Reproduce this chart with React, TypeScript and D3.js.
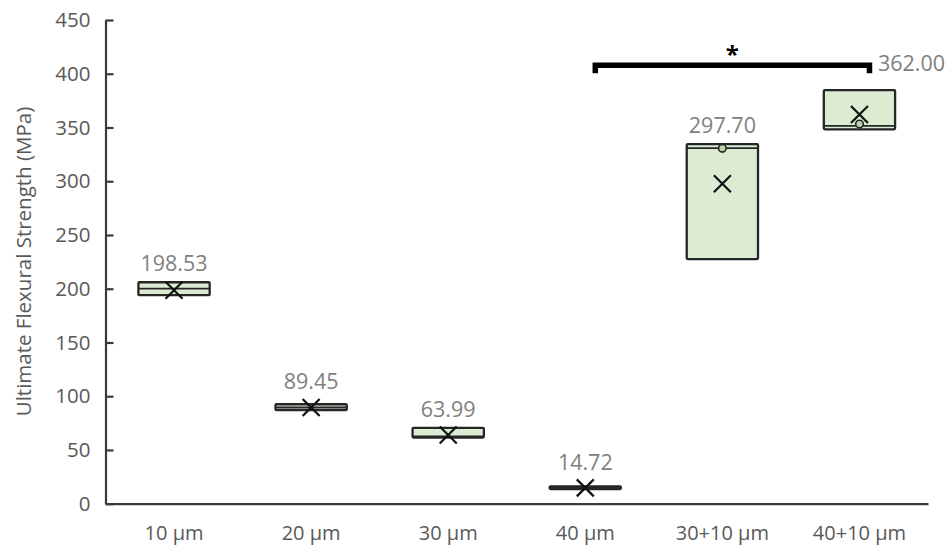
import React, { useEffect, useRef } from 'react';
import * as d3 from 'd3';

const categories = ['10 µm', '20 µm', '30 µm', '40 µm', '30+10 µm', '40+10 µm'];
const q1Values = [194, 87, 61.5, 13.6, 227.6, 348.3];
const medianValues = [200, 89.5, 62.5, 15, 330.8, 351.5];
const q3Values = [206, 92.5, 70.5, 16.2, 334.5, 384.8];
const meanValues = [198.53, 89.45, 63.99, 14.72, 297.7, 362.0];
const innerPoints = [[], [], [], [], [330.6], [353.2]];
const yTicks = [0, 50, 100, 150, 200, 250, 300, 350, 400, 450];
const bracketFrom = '40 µm';
const bracketTo = '40+10 µm';
const bracketValue = 408;

const W = 950;
const H = 549;
const FONT = "'Open Sans', sans-serif";

export default function App() {
  const svgRef = useRef<SVGSVGElement>(null);

  useEffect(() => {
    if (!svgRef.current) return;
    const svg = d3.select(svgRef.current);
    svg.selectAll('*').remove();

    const x = d3.scaleBand<string>()
      .domain(categories)
      .range([105.5, 928])
      .paddingInner(0.48)
      .paddingOuter(0.24);
    const y = d3.scaleLinear().domain([0, 450]).range([503.7, 20]);
    const bw = x.bandwidth();

    // y axis, ticks inside
    const gy = svg.append('g')
      .attr('transform', 'translate(105.5,0)')
      .call(d3.axisLeft(y).tickValues(yTicks).tickSizeInner(-8).tickSizeOuter(0).tickPadding(15));
    gy.select('.domain').attr('stroke', '#3a3a3a').attr('stroke-width', 2.2);
    gy.selectAll('.tick line').attr('stroke', '#3a3a3a').attr('stroke-width', 2.2);
    gy.selectAll('.tick text')
      .attr('fill', '#595959')
      .style('font-family', FONT)
      .style('font-size', '20.5px');

    // x axis, no ticks
    const gx = svg.append('g')
      .attr('transform', 'translate(0,503.7)')
      .call(d3.axisBottom(x).tickSize(0).tickPadding(22).tickSizeOuter(0));
    gx.select('.domain').attr('stroke', '#3a3a3a').attr('stroke-width', 2.2);
    gx.selectAll('.tick text')
      .attr('fill', '#595959')
      .style('font-family', FONT)
      .style('font-size', '20px');

    // axis title
    svg.append('text')
      .attr('transform', 'translate(24,261.5) rotate(-90)')
      .attr('text-anchor', 'middle')
      .attr('dy', '0.35em')
      .attr('fill', '#595959')
      .style('font-family', FONT)
      .style('font-size', '20.5px')
      .text('Ultimate Flexural Strength (MPa)');

    const groups = svg.append('g')
      .selectAll('g')
      .data(categories)
      .join('g');

    // boxes
    groups.append('rect')
      .attr('x', d => x(d)!)
      .attr('width', bw)
      .attr('y', (d, i) => y(q3Values[i]))
      .attr('height', (d, i) => y(q1Values[i]) - y(q3Values[i]))
      .attr('rx', 1)
      .attr('fill', '#dbecd3')
      .attr('stroke', '#262626')
      .attr('stroke-width', 2.3);

    // median
    groups.append('line')
      .attr('x1', d => x(d)!)
      .attr('x2', d => x(d)! + bw)
      .attr('y1', (d, i) => y(medianValues[i]))
      .attr('y2', (d, i) => y(medianValues[i]))
      .attr('stroke', '#262626')
      .attr('stroke-width', 1.8);

    // inner points
    groups.each(function (d, i) {
      d3.select(this)
        .selectAll('circle')
        .data(innerPoints[i])
        .join('circle')
        .attr('cx', x(d)! + bw / 2)
        .attr('cy', v => y(v))
        .attr('r', 3.8)
        .attr('fill', '#b9d6aa')
        .attr('stroke', '#262626')
        .attr('stroke-width', 1.6);
    });

    // mean markers
    const s = 8.5;
    groups.append('path')
      .attr('d', (d, i) => {
        const cx = x(d)! + bw / 2;
        const cy = y(meanValues[i]);
        return `M${cx - s},${cy - s}L${cx + s},${cy + s}M${cx + s},${cy - s}L${cx - s},${cy + s}`;
      })
      .attr('stroke', '#111')
      .attr('stroke-width', 2.2)
      .attr('fill', 'none');

    // mean labels
    const last = categories.length - 1;
    groups.append('text')
      .attr('x', (d, i) => x(d)! + bw / 2 + (i === last ? 52 : 0))
      .attr('y', (d, i) => {
        const yy = Math.min(y(meanValues[i]) - 26, y(q3Values[i]) - 19);
        return i === last ? yy - 8 : yy;
      })
      .attr('dy', '0.36em')
      .attr('text-anchor', 'middle')
      .attr('fill', '#808080')
      .style('font-family', FONT)
      .style('font-size', '21.5px')
      .text((d, i) => meanValues[i].toFixed(2));

    // significance bracket
    const xl = x(bracketFrom)! + bw / 2 + 10;
    const xr = x(bracketTo)! + bw / 2 + 10;
    const yb = y(bracketValue);
    svg.append('path')
      .attr('d', `M${xl},${yb + 8}V${yb}H${xr}V${yb + 8}`)
      .attr('fill', 'none')
      .attr('stroke', '#000')
      .attr('stroke-width', 5.5);
    svg.append('text')
      .attr('x', (xl + xr) / 2)
      .attr('y', yb - 2)
      .attr('text-anchor', 'middle')
      .attr('fill', '#000')
      .style('font-family', FONT)
      .style('font-size', '24px')
      .style('font-weight', 'bold')
      .text('*');
  }, []);

  return (
    <svg
      ref={svgRef}
      width={W}
      height={H}
      style={{ position: 'absolute', left: 0, top: 0, background: '#fff', display: 'block' }}
    />
  );
}
